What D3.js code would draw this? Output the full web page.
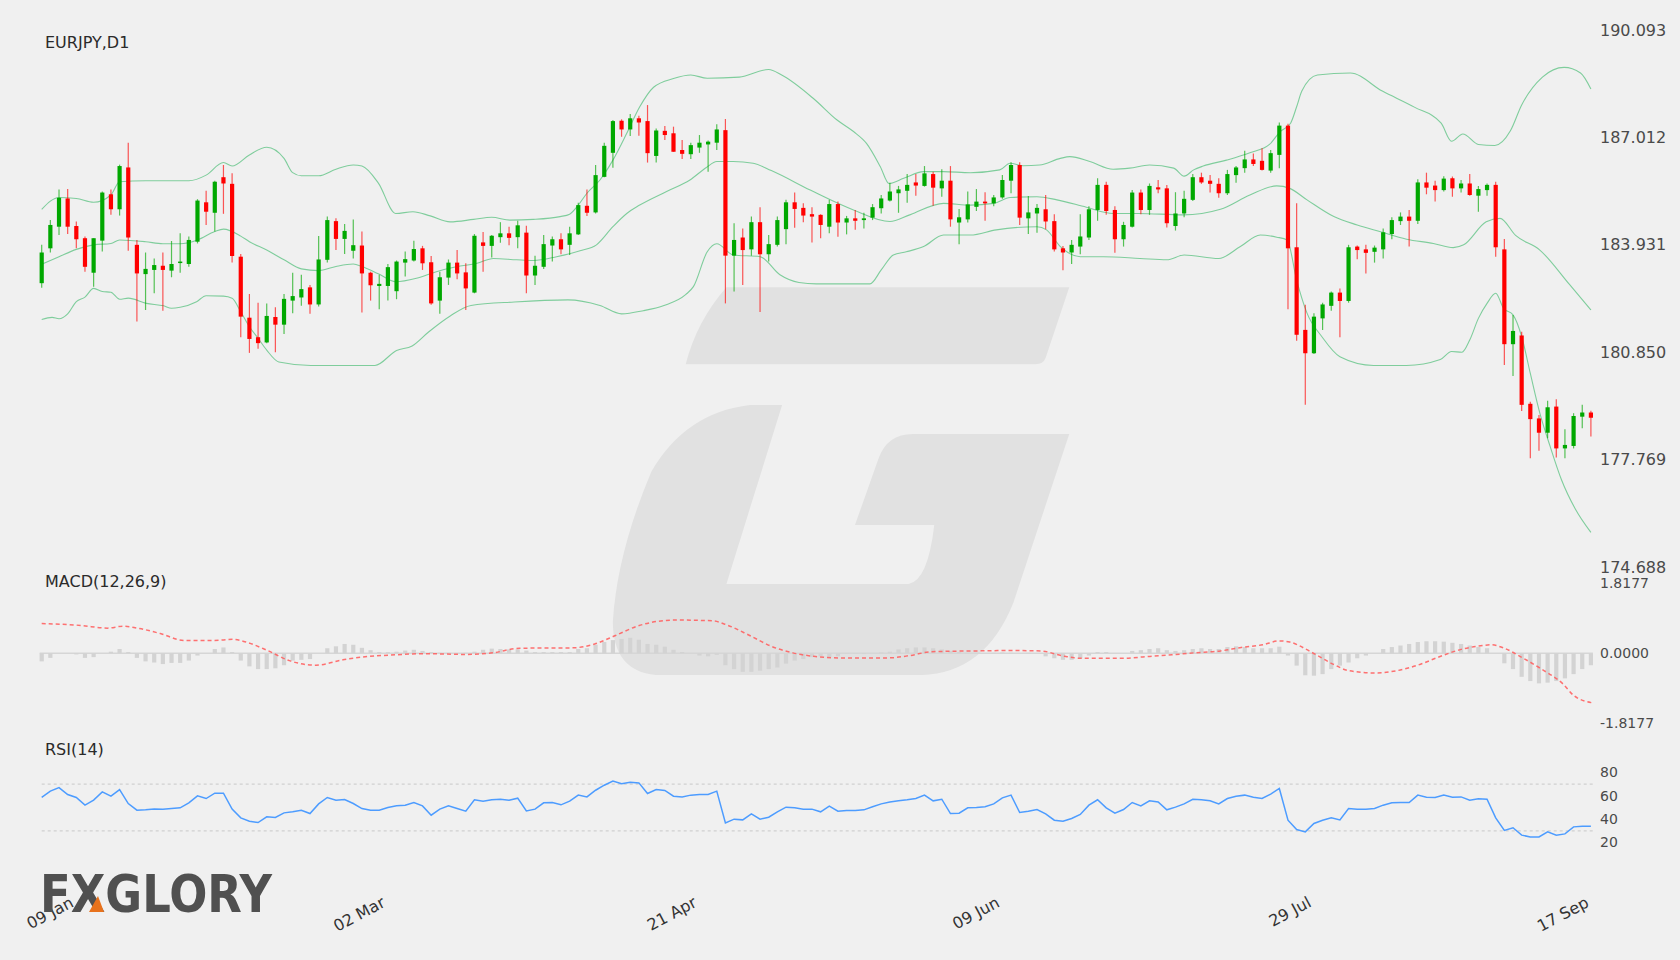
<!DOCTYPE html>
<html>
<head>
<meta charset="utf-8">
<script src="https://cdn.jsdelivr.net/npm/d3@7"></script>
<style>
  body { margin: 0; background: #f0f0f0; }
  text { font-family: "DejaVu Sans", sans-serif; }
</style>
</head>
<body>
<script>
// candle data, EURJPY D1
const opens = [182.83,183.83,184.45,185.26,184.47,184.12,183.13,184.05,185.38,184.95,186.15,183.93,183.09,183.21,183.33,183.19,183.41,183.38,184.02,185.15,
184.85,185.87,185.68,183.59,181.84,181.28,181.13,181.86,181.64,182.33,182.42,182.71,182.22,183.50,184.61,184.10,183.76,183.91,183.13,182.75,
182.75,182.60,183.42,183.48,183.83,183.43,182.33,182.99,183.42,183.14,182.56,184.00,183.90,184.15,184.26,184.15,184.28,183.05,183.30,183.91,
184.09,183.93,184.23,185.05,184.86,185.88,186.57,187.49,187.24,187.56,187.48,186.48,187.20,187.13,186.65,186.53,186.72,186.81,186.86,187.22,
183.62,184.14,183.80,184.58,183.66,183.93,184.38,185.15,184.99,184.81,184.79,184.45,185.10,184.57,184.69,184.64,184.71,184.98,185.20,185.41,
185.48,185.72,185.62,185.96,185.55,185.77,184.57,184.66,185.02,185.17,185.12,185.29,185.77,186.22,184.69,184.83,184.95,184.61,183.83,183.71,
183.88,184.14,184.93,185.65,184.93,184.09,184.45,185.43,184.93,185.58,185.55,184.47,184.83,185.22,185.87,185.77,185.68,185.41,185.93,186.13,
186.38,186.34,186.06,186.51,187.35,183.86,181.49,180.82,181.82,182.18,182.56,182.32,183.88,183.80,183.73,183.80,184.24,184.61,184.74,184.62,
185.72,185.63,185.50,185.84,185.55,185.69,185.34,185.50,185.65,183.80,181.08,181.33,179.37,178.95,178.54,179.29,178.09,178.16,179.00,179.12];
const highs = [183.93,184.64,185.52,185.53,184.60,184.17,184.12,185.46,185.52,186.23,186.86,184.07,183.71,183.54,183.71,184.04,184.26,184.17,185.24,185.48,
185.77,186.22,185.98,183.67,182.52,182.27,182.25,182.14,182.52,183.13,183.07,182.78,184.18,184.74,184.69,184.53,184.66,184.31,183.16,183.07,
183.38,183.48,183.74,184.05,183.90,183.61,183.16,183.51,183.78,183.40,184.24,184.30,184.21,184.58,184.45,184.62,184.48,183.62,184.21,184.17,
184.26,184.45,185.14,185.52,186.22,186.86,187.51,187.53,187.68,187.63,187.94,187.27,187.34,187.32,186.94,186.86,187.08,186.92,187.39,187.54,
184.55,184.40,184.74,185.01,184.21,184.74,185.22,185.43,185.12,185.01,184.81,185.22,185.17,184.76,184.93,184.85,185.10,185.36,185.71,185.62,
185.96,185.96,186.19,186.03,186.10,186.19,184.96,185.46,185.53,185.44,185.36,185.93,186.30,186.30,185.33,185.10,185.36,184.81,183.90,184.07,
184.81,185.04,185.84,185.74,185.04,184.59,185.50,185.52,185.69,185.79,185.65,185.44,185.48,185.96,186.00,185.93,185.84,186.08,186.19,186.63,
186.55,186.70,186.65,187.44,187.40,185.12,182.21,181.97,182.27,182.59,182.68,183.93,183.91,183.93,183.91,184.40,184.72,184.86,184.93,185.81,
186.00,185.77,185.90,185.89,185.79,185.96,185.62,185.69,185.74,184.10,181.92,181.44,179.43,179.05,179.46,179.50,178.64,179.10,179.34,179.17];
const lows = [182.70,183.71,184.21,184.24,183.83,183.16,182.73,183.74,184.79,184.77,183.76,181.73,182.06,182.54,182.04,183.00,183.13,183.30,183.97,184.50,
184.31,184.82,183.42,181.28,180.83,180.95,181.11,180.85,181.37,181.97,182.18,181.95,182.16,183.42,183.78,183.67,183.54,181.99,182.33,182.08,
182.33,182.37,183.02,183.45,183.21,182.21,181.95,182.78,182.94,182.06,182.54,183.16,183.57,183.99,183.92,183.83,182.54,182.78,183.24,183.45,
183.66,183.64,184.21,184.76,184.83,185.87,186.14,187.03,187.05,187.06,186.29,186.29,186.94,186.60,186.39,186.39,186.57,186.03,186.65,182.25,
182.59,182.78,183.62,182.00,183.45,183.88,183.95,184.42,184.58,184.00,184.12,184.26,184.16,184.23,184.36,184.40,184.64,184.83,185.17,184.85,
185.14,185.34,185.60,185.05,185.31,184.45,183.95,184.57,184.90,184.62,185.04,185.25,185.41,184.50,184.24,184.28,184.38,183.74,183.20,183.38,
183.66,184.07,184.62,184.79,183.70,183.88,184.43,184.81,184.79,185.41,184.43,184.34,184.72,185.19,185.68,185.43,185.28,185.36,185.71,186.00,
186.19,186.06,186.00,186.13,182.08,181.18,179.34,180.80,181.49,182.04,181.28,182.27,183.52,183.11,183.42,183.54,184.09,184.50,183.88,184.53,
185.38,185.17,185.46,185.31,185.43,185.34,184.88,185.34,183.59,180.48,180.17,179.16,177.81,178.02,178.38,177.83,177.81,178.09,178.67,178.43];
const closes = [183.71,184.50,185.28,184.45,184.09,183.30,184.12,185.43,184.95,186.19,184.14,183.11,183.24,183.35,183.21,183.38,183.45,184.07,185.20,184.88,
185.74,185.69,183.61,181.87,181.23,181.11,181.89,181.64,182.38,182.46,182.66,182.22,183.51,184.64,184.10,184.33,183.92,183.11,182.77,182.81,
183.29,183.45,183.52,183.81,183.40,182.25,183.00,183.42,183.11,182.68,184.19,183.90,184.19,184.26,184.13,184.49,183.05,183.33,183.95,184.09,
183.80,184.26,185.07,184.85,185.93,186.77,187.48,187.24,187.56,187.44,186.56,187.21,187.08,186.60,186.54,186.79,186.86,186.89,187.24,183.62,
184.07,183.78,184.58,183.66,183.95,184.64,185.15,184.96,184.77,184.74,184.50,185.10,184.57,184.69,184.62,184.69,185.01,185.26,185.46,185.52,
185.65,185.63,185.98,185.57,185.77,184.66,184.72,185.09,185.17,185.12,185.29,185.79,186.22,184.71,184.86,184.99,184.60,183.80,183.71,183.93,
184.17,184.95,185.65,184.90,184.09,184.50,185.43,184.93,185.62,185.52,184.55,184.83,185.25,185.87,185.72,185.68,185.41,185.96,186.15,186.38,
186.25,186.08,186.56,187.35,183.83,181.35,180.82,181.87,182.22,182.56,182.32,183.86,183.78,183.70,183.85,184.29,184.64,184.74,184.62,185.72,
185.57,185.50,185.83,185.55,185.69,185.36,185.53,185.65,183.86,181.08,181.46,179.34,178.93,178.54,179.27,178.09,178.19,179.02,179.12,178.97];

// bollinger bands read as [bar index, price]
const upperBand = [[0,184.95],[2,185.29],[4,185.26],[6,185.15],[8,185.36],[9,185.74],[12,185.77],[17,185.77],[19,185.93],[21,186.29],[22,186.19],[24,186.51],
[26,186.73],[28,186.41],[29,186.00],[30,185.91],[32,185.91],[34,186.10],[36,186.22],[37,186.19],[38.9,185.70],[40.9,184.83],[42.9,184.88],[44.9,184.76],
[47.2,184.59],[49.9,184.66],[52,184.72],[54.1,184.64],[56.8,184.66],[59.9,184.74],[61,184.81],[62,185.07],[63,185.41],[64.5,185.79],[66,186.36],
[67.6,187.13],[69.1,187.89],[70.7,188.45],[73,188.70],[75,188.80],[76.9,188.71],[80.6,188.74],[84,188.96],[85.5,188.80],[89.2,188.12],[91.9,187.51],
[93.8,187.18],[95.3,186.84],[96.9,186.17],[97.9,185.69],[99.6,185.84],[101.9,186.03],[104.2,186.03],[107.3,186.00],[110.7,186.08],[111.9,186.27],
[113.4,186.20],[115.3,186.22],[117.7,186.41],[118.8,186.46],[121.1,186.32],[123.8,186.10],[125.7,186.13],[128,186.22],[130.8,186.13],[132,185.90],
[133.1,186.08],[134.2,186.19],[136.9,186.36],[139.6,186.57],[141.9,186.82],[143.1,187.18],[144.3,187.42],[145,187.89],[145.6,188.34],[147.4,188.80],
[151.2,188.86],[154.9,188.34],[158.6,187.88],[161.7,187.42],[162.9,186.90],[164.2,187.11],[166,186.81],[167.9,186.78],[169.7,187.20],[171,187.94],
[173.4,188.74],[175.9,189.02],[177.8,188.86],[179,188.40]];
const midBand = [[0,183.37],[2,183.59],[4,183.80],[6,183.93],[8,183.97],[9,184.07],[12,184.02],[14,183.96],[16,183.96],[18,184.07],[20,184.31],[21,184.38],
[23,184.18],[24,184.02],[26,183.78],[28,183.50],[30,183.24],[32,183.19],[34,183.31],[36,183.38],[37,183.31],[38.9,183.10],[40.9,182.87],[43.3,182.97],
[45.6,183.16],[47.9,183.30],[50.3,183.40],[52.2,183.54],[54.9,183.50],[56.8,183.48],[59.5,183.59],[62.2,183.76],[64.1,183.93],[66,184.45],[67.6,184.83],
[69.1,185.07],[72.2,185.46],[74.9,185.79],[76.8,186.15],[78,186.32],[79.9,186.32],[82.2,186.27],[84.3,186.06],[88.8,185.50],[93.8,184.93],[98,184.60],
[100.3,184.79],[104.2,185.12],[107.3,185.07],[110,185.12],[111.9,185.29],[115,185.31],[117.3,185.22],[120.7,185.01],[123.8,184.83],[126.7,184.83],
[131.9,184.79],[136.2,184.95],[139.6,185.36],[142.7,185.62],[144.2,185.55],[146.2,185.22],[149.3,184.74],[152,184.50],[154.6,184.31],[157.7,184.09],
[160.8,183.97],[163.1,183.85],[164.3,183.93],[166.9,184.59],[168.5,184.69],[170.3,184.20],[173.1,183.78],[176.5,182.80],[179,182.06]];
const lowerBand = [[0,181.79],[1.2,181.85],[2,181.81],[3,181.95],[4,182.30],[5,182.43],[6,182.68],[7,182.59],[8,182.57],[9,182.37],[10,182.40],[12.1,182.25],
[14.1,182.18],[15,182.11],[16,182.14],[17.9,182.30],[19,182.47],[21,182.46],[22,182.40],[23,182.01],[24,181.58],[25,181.25],[26,180.91],[27.4,180.57],
[31.1,180.47],[38.5,180.47],[41,180.90],[42.8,181.03],[44.7,181.43],[47.2,181.89],[49.6,182.19],[54.6,182.29],[60.8,182.35],[64.5,182.19],[67,181.95],
[69.5,182.04],[71.9,182.19],[74.4,182.50],[75.3,182.73],[76.9,183.73],[78,183.96],[79.9,183.64],[83,183.59],[85.3,183.07],[87.5,182.85],[89.5,182.81],
[95.7,182.81],[97,183.21],[98.4,183.64],[99.9,183.73],[101.9,183.88],[104.2,184.21],[107.3,184.21],[110.3,184.36],[115,184.45],[116.1,184.36],
[117.7,183.88],[120,183.59],[122.7,183.59],[126.9,183.54],[130,183.50],[132,183.64],[136,183.54],[138.5,183.88],[140.8,184.21],[142.7,184.15],
[143.9,184.07],[145,182.92],[146.2,181.97],[147.9,181.30],[150,180.72],[153.9,180.47],[157.7,180.47],[161.6,180.64],[162.9,180.87],[164.1,180.85],
[165,181.20],[166,181.82],[167,182.25],[168,182.54],[168.9,182.11],[170,181.92],[171,181.30],[172,180.24],[173.1,179.10],[174.3,178.14],[175.6,177.19],
[177.2,176.35],[179,175.68]];

// MACD(12,26,9)
const macdHist = [-0.21,-0.12,0,0,-0.03,-0.12,-0.10,0,0.04,0.11,
0.03,-0.12,-0.21,-0.24,-0.28,-0.25,-0.25,-0.19,-0.06,0,
0.11,0.15,0.03,-0.19,-0.34,-0.41,-0.41,-0.39,-0.31,-0.19,
-0.17,-0.15,0,0.13,0.18,0.24,0.22,0.14,0.08,0.03,
0.03,0.04,0.07,0.09,0.06,0.03,0.01,0.01,0,0.01,
0.04,0.09,0.12,0.11,0.10,0.10,0.07,0.03,0.03,0.03,
0.03,0.03,0.11,0.13,0.22,0.29,0.34,0.37,0.40,0.35,
0.24,0.22,0.17,0.09,0.03,0,-0.06,-0.08,-0.04,-0.31,
-0.41,-0.48,-0.48,-0.45,-0.41,-0.37,-0.27,-0.19,-0.15,-0.10,
-0.08,-0.10,-0.08,-0.01,-0.01,-0.02,0,0.02,0.04,0.10,
0.13,0.15,0.15,0.13,0.10,0.06,0.03,0.01,0.01,0,
0.01,0.02,0.01,0,0.01,0,-0.08,-0.13,-0.17,-0.17,
-0.13,-0.06,0.03,0.03,0,0,0.06,0.08,0.11,0.13,
0.08,0.06,0.08,0.11,0.13,0.11,0.11,0.16,0.18,0.16,
0.13,0.13,0.13,0.17,-0.06,-0.32,-0.57,-0.58,-0.54,-0.41,
-0.32,-0.24,-0.13,-0.06,0,0.11,0.16,0.20,0.24,0.29,
0.31,0.31,0.30,0.27,0.24,0.20,0.16,0.13,0,-0.26,
-0.41,-0.61,-0.72,-0.78,-0.76,-0.72,-0.65,-0.54,-0.41,-0.31];
const signalLine = [[0,0.77],[4.5,0.72],[7.6,0.65],[9.4,0.70],[11.3,0.64],[13.7,0.51],[16.5,0.33],[19.9,0.33],[22.1,0.36],[23.6,0.29],[26.1,0.07],
[28.6,-0.19],[31.7,-0.31],[34.8,-0.17],[37.9,-0.08],[41,-0.04],[44.1,-0.01],[49,-0.03],[52.1,0.01],[55.2,0.13],[61.4,0.14],[63.9,0.24],[66.3,0.46],
[68.8,0.70],[71.3,0.83],[73.2,0.86],[77.5,0.84],[79.3,0.72],[81.8,0.46],[84.3,0.18],[86.8,0.01],[89.2,-0.08],[92.2,-0.12],[97.8,-0.12],[100.3,-0.06],
[102.8,0.04],[107.7,0.06],[112,0.07],[115.4,0.06],[118.2,-0.08],[120.1,-0.13],[125,-0.13],[127.5,-0.09],[130.6,-0.04],[133.1,0.01],[136.2,0.06],
[138.6,0.15],[141.1,0.22],[143,0.32],[144.2,0.29],[146.7,0.03],[149.2,-0.28],[151,-0.45],[154.1,-0.51],[156.6,-0.45],[159.1,-0.30],[161.5,-0.09],
[164,0.10],[166.5,0.20],[167.4,0.22],[169,0.13],[170.8,-0.08],[173.3,-0.41],[175.8,-0.80],[177,-1.09],[179.1,-1.28]];

// RSI(14)
const rsi = [58.6,64.0,67.1,61.1,58.6,52.0,56.3,63.4,59.7,65.4,
53.4,47.7,48.0,48.8,48.6,49.1,49.7,54.0,60.0,57.7,
62.3,62.3,48.6,41.1,38.3,37.1,42.0,41.4,45.4,46.3,
47.7,44.8,53.1,58.6,56.3,56.8,53.4,49.1,47.7,47.7,
50.0,51.4,52.0,54.3,51.4,43.4,48.6,51.4,49.1,46.8,
56.6,55.4,56.6,57.1,56.3,58.0,47.1,48.6,54.0,54.3,
52.3,55.4,60.6,59.1,64.8,69.1,72.6,70.3,71.7,71.1,
62.0,65.4,64.6,59.7,59.1,60.6,61.1,61.1,64.0,36.8,
40.0,39.4,44.6,40.0,41.7,46.3,50.3,49.7,48.6,48.6,
46.3,51.1,46.8,47.4,47.4,48.0,50.6,53.1,54.8,55.7,
56.6,57.7,60.6,55.7,57.1,44.8,45.1,49.7,50.0,50.6,
53.1,58.3,60.6,45.7,46.8,48.3,44.6,39.1,38.3,40.6,
44.0,52.0,56.6,49.7,45.1,48.3,54.3,51.4,55.7,54.8,
48.0,50.3,53.1,57.1,56.6,55.7,53.1,57.7,59.7,60.6,
58.8,57.7,61.4,66.3,39.1,31.1,29.1,36.3,39.1,41.1,
39.4,49.1,48.6,48.6,49.1,52.0,54.0,54.3,54.3,60.6,
58.8,58.6,60.6,58.8,59.1,56.3,57.4,57.1,41.1,30.3,
32.6,26.3,24.8,24.8,29.1,26.3,27.4,33.4,34.0,34.0];

const priceTicks = [190.093, 187.012, 183.931, 180.850, 177.769, 174.688];
const macdTicks = [1.8177, 0, -1.8177];
const rsiTicks = [80, 60, 40, 20];
const rsiLevels = [70, 30];
const dateIdx = [0, 36, 72, 107, 143, 179];
const dateLabels = ["09 Jan", "02 Mar", "21 Apr", "09 Jun", "29 Jul", "17 Sep"];

const W = 1680, H = 960;
const svg = d3.select("body").append("svg").attr("width", W).attr("height", H);
svg.append("rect").attr("width", W).attr("height", H).attr("fill", "#f0f0f0");

// watermark, drawn in the 1568x896 grid and scaled up
const wm = svg.append("g").attr("transform", "scale(1.0714)").attr("fill", "#e1e1e1");
wm.append("path").attr("d", "M678,268 L998,268 L976,334 Q974,340 966,340 L640,340 Q650,300 678,268 Z");
wm.append("path").attr("d", "M730,378 L678,545 L848,545 Q866,542 872,490 L798,490 L820,428 Q828,405 852,405 L998,405 L946,562 Q920,628 860,630 L612,630 Q572,626 572,580 Q576,516 608,440 Q640,385 700,378 Z");

const n = closes.length;
const x = d3.scaleLinear().domain([0, n - 1]).range([41.7, 1590.9]);
const y = d3.scaleLinear().domain([174.688, 190.093]).range([567, 30]);
const ym = d3.scaleLinear().domain([-1.8177, 1.8177]).range([723.5, 583]);
const yr = d3.scaleLinear().domain([20, 80]).range([842.5, 772.5]);

const green = "#00a800", red = "#ff0000";

// bollinger
const bbLine = d3.line().x(d => x(d[0])).y(d => y(d[1])).curve(d3.curveMonotoneX);
[upperBand, midBand, lowerBand].forEach(b => {
  svg.append("path").attr("d", bbLine(b)).attr("fill", "none")
     .attr("stroke", "#7fcd9c").attr("stroke-width", 1.1);
});

// candles
const candles = svg.append("g").selectAll("g").data(d3.range(n)).enter().append("g");
candles.append("line")
  .attr("x1", i => x(i)).attr("x2", i => x(i))
  .attr("y1", i => y(highs[i])).attr("y2", i => y(lows[i]))
  .attr("stroke", i => closes[i] >= opens[i] ? green : red)
  .attr("stroke-opacity", 0.65).attr("stroke-width", 1.2);
candles.append("rect")
  .attr("x", i => x(i) - 2.1).attr("width", 4.2)
  .attr("y", i => y(Math.max(opens[i], closes[i])))
  .attr("height", i => Math.max(1.5, Math.abs(y(opens[i]) - y(closes[i]))))
  .attr("fill", i => closes[i] >= opens[i] ? green : red);

// price axis
svg.append("g").selectAll("text").data(priceTicks).enter().append("text")
  .attr("x", 1600).attr("y", d => y(d)).attr("dy", "0.35em")
  .attr("font-size", 16).attr("fill", "#4a4a4a").text(d => d.toFixed(3));

// MACD
svg.append("line").attr("x1", x(0) - 2).attr("x2", x(n - 1) + 2)
  .attr("y1", ym(0)).attr("y2", ym(0)).attr("stroke", "#d6d6d6").attr("stroke-width", 1.5);
svg.append("g").selectAll("rect").data(macdHist).enter().append("rect")
  .attr("x", (d, i) => x(i) - 2.1).attr("width", 4.2)
  .attr("y", d => ym(Math.max(0, d))).attr("height", d => Math.abs(ym(d) - ym(0)))
  .attr("fill", "#d3d3d3");
svg.append("path")
  .attr("d", d3.line().x(d => x(d[0])).y(d => ym(d[1])).curve(d3.curveMonotoneX)(signalLine))
  .attr("fill", "none").attr("stroke", "#ff6262").attr("stroke-width", 1.5)
  .attr("stroke-dasharray", "4,3").attr("stroke-opacity", 0.9);
svg.append("g").selectAll("text").data(macdTicks).enter().append("text")
  .attr("x", 1600).attr("y", d => ym(d)).attr("dy", "0.35em")
  .attr("font-size", 14).attr("fill", "#4a4a4a").text(d => d.toFixed(4));

// RSI
svg.append("g").selectAll("line").data(rsiLevels).enter().append("line")
  .attr("x1", x(0)).attr("x2", x(n - 1) + 2).attr("y1", d => yr(d)).attr("y2", d => yr(d))
  .attr("stroke", "#d0d0d0").attr("stroke-dasharray", "3,3").attr("stroke-width", 1.2);
svg.append("path")
  .attr("d", d3.line().x((d, i) => x(i)).y(d => yr(d))(rsi))
  .attr("fill", "none").attr("stroke", "#4d9cff").attr("stroke-width", 1.5);
svg.append("g").selectAll("text").data(rsiTicks).enter().append("text")
  .attr("x", 1600).attr("y", d => yr(d)).attr("dy", "0.35em")
  .attr("font-size", 14).attr("fill", "#4a4a4a").text(d => d);

// titles
const titles = [["EURJPY,D1", 42], ["MACD(12,26,9)", 581], ["RSI(14)", 749]];
svg.append("g").selectAll("text").data(titles).enter().append("text")
  .attr("x", 45).attr("y", d => d[1]).attr("dy", "0.35em")
  .attr("font-size", 16).attr("fill", "#2a2a2a").text(d => d[0]);

// dates
svg.append("g").selectAll("text").data(dateIdx).enter().append("text")
  .attr("transform", (d, i) => {
    const ex = Math.min(x(d) + 33, 1590);
    return "translate(" + ex + ",906) rotate(-28)";
  })
  .attr("text-anchor", "end").attr("font-size", 16).attr("fill", "#333")
  .text((d, i) => dateLabels[i]);

// logo
svg.append("text").attr("x", 40).attr("y", 912)
  .attr("font-size", 52).attr("font-weight", "bold").attr("fill", "#505050")
  .attr("textLength", 232).attr("lengthAdjust", "spacingAndGlyphs")
  .text("FXGLORY");
svg.append("path").attr("d", "M89,912 L98,896 L104,912 Z").attr("fill", "#e8721c");
</script>
</body>
</html>
